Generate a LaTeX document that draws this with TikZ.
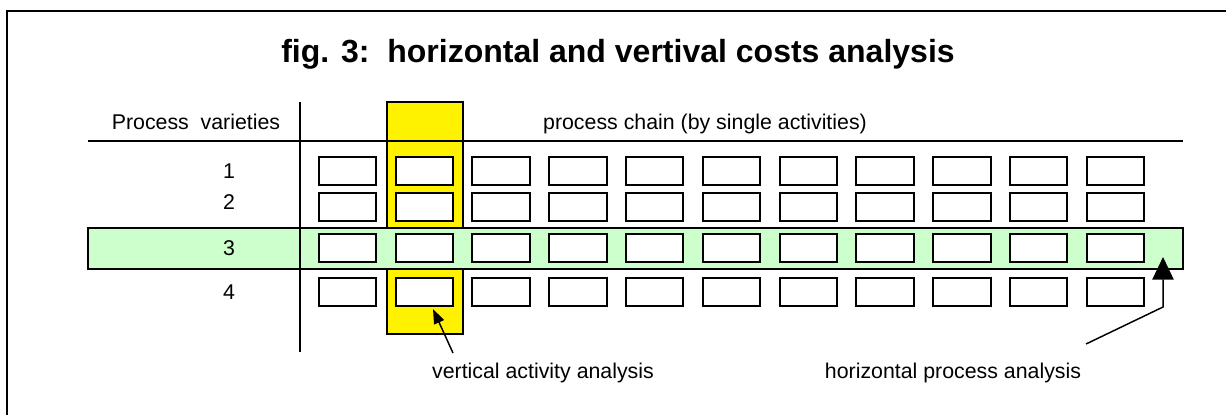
\documentclass[tikz,border=0pt]{standalone}
\usepackage{fontspec}
\setmainfont{Liberation Sans}
\usetikzlibrary{arrows.meta}
\usepackage{xcolor}
\definecolor{rowgreen}{RGB}{204,255,204}

\begin{document}
\begin{tikzpicture}[x=0.75pt, y=-0.75pt, thick,
	act/.style={draw, line width=1.5pt, fill=white, inner sep=0pt, minimum width=43pt, minimum height=21pt},
	lbl/.style={font=\fontsize{16}{19}\selectfont, inner sep=0pt, anchor=base},
	ttl/.style={font=\fontsize{24}{28}\selectfont\bfseries, inner sep=0pt, anchor=base}]
		\useasboundingbox (0,0) rectangle (1226,414);
		\clip (0,0) rectangle (1226,414);
		\draw[line width=1.5pt] (7,430) -- (7,11) -- (1240,11);
		\draw[fill=yellow, line width=1.2pt] (387,102) rectangle (463,334);
		\draw[fill=rowgreen, line width=1.2pt] (88,228) rectangle (1183,269);
		\draw[line width=1.5pt] (300,102) -- (300,352);
		\draw[line width=1.5pt] (88,141) -- (1183,141);
		\foreach \r/\y in {1/171, 2/207, 3/247.5, 4/292}
			\foreach \c in {1,...,11}
				\node[act] (b\r-\c) at ({347.5+76.8*(\c-1)}, \y) {};
		\foreach \r/\y in {1/178.5, 2/209, 3/255.5, 4/299.5}
			\node[lbl] (v\r) at (229,\y) {\r};
		\node[ttl] (title) at (618,62) {fig. 3:~~horizontal and vertival costs analysis};
		\node[lbl] (pv) at (196,129) {Process~~varieties};
		\node[lbl] (pc) at (705,129) {process chain (by single activities)};
		\node[lbl] (va) at (543,378) {vertical activity analysis};
		\node[lbl] (ha) at (953,378) {horizontal process analysis};
		\coordinate (vtail) at (453,353);
		\coordinate (vtip) at (433,309);
		\coordinate (htail) at (1086,344);
		\coordinate (hbend) at (1163,307);
		\coordinate (htip) at (1163,257);
		\draw[-{Triangle[length=11pt, width=8pt]}, line width=1.1pt] (vtail) -- (vtip);
		\draw[-{Triangle[length=17pt, width=16pt]}, line width=1.1pt] (htail) -- (hbend) -- (htip);
	\end{tikzpicture}
\end{document}
